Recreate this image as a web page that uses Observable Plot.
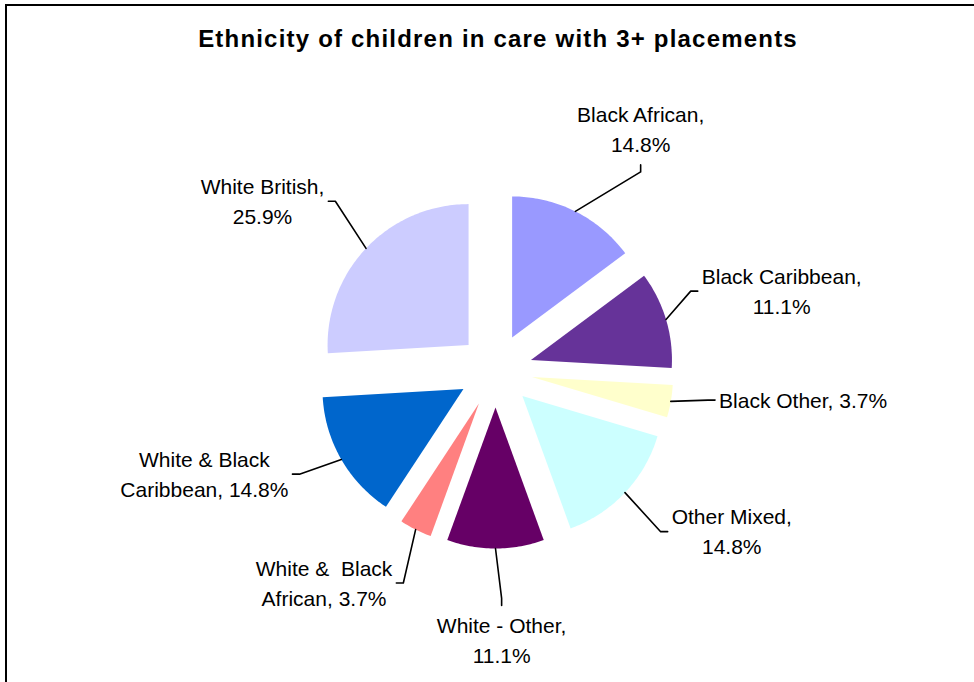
<!DOCTYPE html>
<html><head><meta charset="utf-8">
<script src="https://cdn.jsdelivr.net/npm/d3@7"></script>
<script src="https://cdn.jsdelivr.net/npm/@observablehq/plot@0.6"></script>
<style>
html,body{margin:0;padding:0;background:#fff;overflow:hidden;}
#wrap{position:relative;width:974px;height:682px;overflow:hidden;font-family:"Liberation Sans",Arial,sans-serif;background:#fff;}
#frame{position:absolute;left:5px;top:4px;width:1200px;height:1200px;border-left:2px solid #000;border-top:2px solid #000;}
#title{position:absolute;left:0;top:27px;width:996px;text-align:center;font-weight:bold;font-size:24px;line-height:24px;letter-spacing:1.2px;color:#000;}
#chart{position:absolute;left:0;top:60px;}
</style></head><body>
<div id="wrap"><div id="frame"></div><div id="title">Ethnicity of children in care with 3+ placements</div><div id="chart"></div></div>
<script>
// ---- data ----
const categories = ["Black African","Black Caribbean","Black Other","Other Mixed","White - Other","White & Black African","White & Black Caribbean","White British"];
const shares = [14.8, 11.1, 3.7, 14.8, 11.1, 3.7, 14.8, 25.9];
const labelTexts = ["Black African,\n14.8%","Black Caribbean,\n11.1%","Black Other, 3.7%","Other Mixed,\n14.8%","White - Other,\n11.1%","White &\u00a0 Black\nAfrican, 3.7%","White & Black\nCaribbean, 14.8%","White British,\n25.9%"];
const palette = ["#9999FF","#663399","#FFFFCC","#CCFFFF","#660066","#FF8080","#0066CC","#CCCCFF"];

// ---- layout (page pixel space) ----
const cx = 495, cy = 370, R = 141, EXPLODE = 37;
const labelPolar = [[31.1,281],[74.5,297],[95.5,309],[124.3,286],[178.7,270],[218.9,273],[250.4,309],[306,288]];
const FS = 21, LH = 30, TEXT_SHIFT = -2;

const canvas = document.createElement("canvas");
const ctx = canvas.getContext("2d");
ctx.font = FS + 'px "Liberation Sans"';

const total = d3.sum(shares);
const rad = d => d * Math.PI / 180;
let acc = 0;
const slicePts = [], labelData = [], leaderPts = [];
categories.forEach((cat, i) => {
  const a0 = acc / total * 2 * Math.PI;
  acc += shares[i];
  const a1 = acc / total * 2 * Math.PI;
  const m = (a0 + a1) / 2;
  const ex = cx + EXPLODE * Math.sin(m), ey = cy - EXPLODE * Math.cos(m);
  slicePts.push({cat, x: ex, y: ey});
  const N = Math.max(8, Math.ceil((a1 - a0) * 60));
  for (let k = 0; k <= N; k++) {
    const a = a0 + (a1 - a0) * k / N;
    slicePts.push({cat, x: ex + R * Math.sin(a), y: ey - R * Math.cos(a)});
  }
  // label
  const [ang, dist] = labelPolar[i];
  const lx = cx + dist * Math.sin(rad(ang)), ly = cy - dist * Math.cos(rad(ang));
  labelData.push({cat, x: lx, y: ly + TEXT_SHIFT, text: labelTexts[i]});
  const lines = labelTexts[i].split("\n");
  const halfW = d3.max(lines, s => ctx.measureText(s).width) / 2;
  const halfH = lines.length * LH / 2 + 5;
  // leader
  const px = ex + R * Math.sin(m), py = ey - R * Math.cos(m);
  const dx = lx - px, dy = ly - py;
  let E, B;
  if (Math.abs(dx) > Math.abs(dy)) {
    const s = Math.sign(dx);
    E = [lx - s * (halfW + 4), ly];
    B = [E[0] - s * 7, ly];
  } else {
    const s = Math.sign(dy);
    E = [lx, ly - s * halfH];
    B = [lx, E[1] - s * 7];
  }
  leaderPts.push({cat, x: px, y: py}, {cat, x: B[0], y: B[1]}, {cat, x: E[0], y: E[1]});
});

const chart = Plot.plot({
  width: 974, height: 622, margin: 0,
  style: {background: "transparent", overflow: "visible"},
  x: {domain: [0, 974], range: [0, 974], axis: null},
  y: {domain: [60, 682], range: [0, 622], axis: null},
  color: {domain: categories, range: palette},
  marks: [
    Plot.line(slicePts, {x: "x", y: "y", z: "cat", fill: "cat", stroke: "none", curve: "linear-closed"}),
    Plot.line(leaderPts, {x: "x", y: "y", z: "cat", stroke: "#000", strokeWidth: 1.6}),
    Plot.text(labelData, {x: "x", y: "y", text: "text", fontSize: FS, lineHeight: LH / FS, fontFamily: "Liberation Sans", fill: "#000", textAnchor: "middle"})
  ]
});
document.getElementById("chart").appendChild(chart);
</script>
</body></html>
